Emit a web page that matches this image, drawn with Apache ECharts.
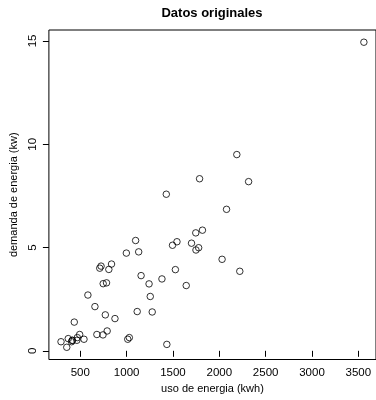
<!DOCTYPE html>
<html>
<head>
<meta charset="utf-8">
<script src="https://cdn.jsdelivr.net/npm/echarts@6/dist/echarts.min.js"></script>
<style>
  html, body { margin: 0; padding: 0; background: #fff; }
  #chart { width: 376px; height: 400px; }
</style>
</head>
<body>
<div id="chart"></div>
<script>
// Energy usage (kWh) and demand (kW) for residential customers
const usoKwh = [679, 292, 1012, 493, 582, 1156, 997, 2189, 1097, 2078,
  1818, 1700, 747, 2030, 1643, 414, 354, 1276, 745, 435,
  540, 874, 1543, 1029, 710, 1434, 837, 1748, 1381, 1428,
  1255, 1777, 370, 2316, 1130, 463, 770, 724, 808, 790,
  783, 406, 1242, 658, 1746, 468, 1114, 413, 1787, 3560,
  1495, 2221, 1526];
const demandaKw = [0.79, 0.44, 0.56, 0.79, 2.70, 3.64, 4.73, 9.50, 5.34, 6.85,
  5.84, 5.21, 3.25, 4.43, 3.16, 0.50, 0.17, 1.88, 0.77, 1.39,
  0.56, 1.56, 5.28, 0.64, 4.00, 0.31, 4.20, 4.88, 3.48, 7.58,
  2.63, 4.99, 0.59, 8.19, 4.79, 0.51, 1.74, 4.10, 3.94, 0.96,
  3.29, 0.44, 3.24, 2.14, 5.71, 0.64, 1.90, 0.51, 8.33, 14.94,
  5.11, 3.85, 3.93];

const xTicks = [500, 1000, 1500, 2000, 2500, 3000, 3500];
const yTicks = [0, 5, 10, 15];

// Axis ranges padded by 4% of the data range on each side
function paddedRange(values) {
  const lo = Math.min(...values), hi = Math.max(...values);
  const pad = (hi - lo) * 0.04;
  return [lo - pad, hi + pad];
}
const xRange = paddedRange(usoKwh);
const yRange = paddedRange(demandaKw);

const points = usoKwh.map((x, i) => [x, demandaKw[i]]);
const font = 'Liberation Sans, Arial, Helvetica, sans-serif';
const plain = v => String(v);

const chart = echarts.init(document.getElementById('chart'), null, { renderer: 'canvas' });
chart.setOption({
  animation: false,
  backgroundColor: '#fff',
  title: {
    text: 'Datos originales',
    left: 212,
    top: 7,
    padding: 0,
    textAlign: 'center',
    textStyle: { fontFamily: font, fontSize: 13, fontWeight: 'bold', color: '#000' }
  },
  grid: {
    left: 46,
    top: 30,
    width: 332,
    height: 329.5,
    show: true,
    borderColor: '#000',
    borderWidth: 1,
    backgroundColor: 'transparent'
  },
  xAxis: {
    type: 'value',
    min: xRange[0],
    max: xRange[1],
    name: 'uso de energia (kwh)',
    nameLocation: 'middle',
    nameGap: 22,
    nameTextStyle: { fontFamily: font, fontSize: 11, color: '#000' },
    axisLine: { show: false },
    splitLine: { show: false },
    axisTick: {
      show: true, inside: false, length: 6,
      lineStyle: { color: '#000', width: 1 },
      customValues: xTicks
    },
    axisLabel: {
      fontFamily: font, fontSize: 11.5, color: '#000', margin: 7,
      formatter: plain,
      customValues: xTicks
    }
  },
  yAxis: {
    type: 'value',
    min: yRange[0],
    max: yRange[1],
    name: 'demanda de energia (kw)',
    nameLocation: 'middle',
    nameGap: 29,
    nameTextStyle: { fontFamily: font, fontSize: 11, color: '#000' },
    axisLine: { show: false },
    splitLine: { show: false },
    axisTick: {
      show: true, inside: false, length: 6,
      lineStyle: { color: '#000', width: 1 },
      customValues: yTicks
    },
    axisLabel: {
      fontFamily: font, fontSize: 11.5, color: '#000', margin: 10, rotate: 90,
      formatter: plain,
      customValues: yTicks
    }
  },
  series: [{
    type: 'scatter',
    data: points,
    symbol: 'circle',
    symbolSize: 6.5,
    silent: true,
    itemStyle: { color: 'rgba(0,0,0,0)', borderColor: '#000', borderWidth: 1 }
  }]
});
</script>
</body>
</html>
